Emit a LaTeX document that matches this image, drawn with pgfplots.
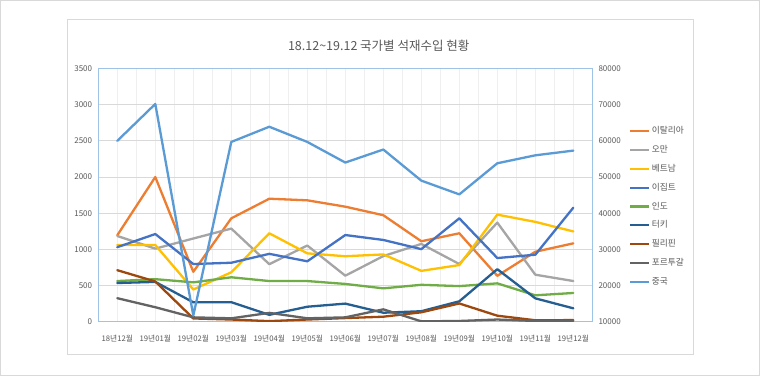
\documentclass[border=0pt]{standalone}
\usepackage{fontspec}
\setmainfont{Noto Sans CJK KR}
\usepackage{pgfplots}
\usepackage{pgfplotstable}
\pgfplotsset{compat=1.18}
\definecolor{cIta}{HTML}{ED7D31}
\definecolor{cOman}{HTML}{A5A5A5}
\definecolor{cViet}{HTML}{FFC000}
\definecolor{cEgypt}{HTML}{4472C4}
\definecolor{cIndia}{HTML}{70AD47}
\definecolor{cTurkey}{HTML}{255E91}
\definecolor{cPhil}{HTML}{9E480E}
\definecolor{cPort}{HTML}{636363}
\definecolor{cChina}{HTML}{5B9BD5}
\definecolor{cText}{HTML}{595959}
\definecolor{cFrame}{HTML}{D9D9D9}
\definecolor{cGridY}{HTML}{D9D9D9}
\definecolor{cGridX}{HTML}{EFEFEF}
\definecolor{cBorder}{HTML}{9DC3E6}

\pgfplotstableread{
k ita oman viet egypt india turkey phil port china
0 1195 1185 1060 1030 562 535 712 325 60000
1 2000 1010 1060 1212 588 550 556 200 70200
2 690 1150 445 797 544 268 45 60 11700
3 1429 1287 683 815 614 270 30 47 59700
4 1700 795 1222 938 562 95 8 122 63900
5 1678 1053 945 835 562 207 30 47 59700
6 1590 636 905 1198 522 250 50 60 54000
7 1472 907 930 1130 461 124 69 171 57600
8 1112 1075 703 1003 510 145 130 5 49000
9 1222 797 783 1429 492 282 252 10 45200
10 634 1370 1480 880 530 726 83 30 53800
11 967 650 1380 926 365 323 20 10 56000
12 1083 562 1248 1576 397 185 22 10 57300
}\datatable

\pgfplotsset{
  common/.style={
    at={(98.3pt,54.3pt)}, anchor=south west,
    scale only axis, width=494pt, height=253.2pt,
    xmin=-0.5, xmax=12.5,
    major tick length=0pt, minor tick length=0pt,
    scaled y ticks=false,
    /pgf/number format/1000 sep={},
    /pgf/number format/assume math mode=true,
    yticklabel style={font=\fontsize{8}{9}\selectfont, text=cText, inner sep=0pt},
  },
  ser/.style={line width=2.3pt, line join=round, line cap=round},
}

\begin{document}
\begin{tikzpicture}[x=1pt,y=1pt]
\useasboundingbox (0,0) rectangle (760,376);
\fill[white] (0,0) rectangle (760,376);
\draw[cFrame, line width=1pt] (0.5,0.5) rectangle (759.5,375.5);
\draw[cFrame, line width=0.8pt] (67,22) rectangle (693,357);
\node[font=\fontsize{12.5}{14}\selectfont, text=cText] at (378.7,330.7) {18.12\textasciitilde 19.12 국가별 석재수입 현황};

\begin{axis}[common,
  ymin=0, ymax=3500, ytick={0,500,...,3500},
  xtick={0,...,12},
  xticklabels={18년12월,19년01월,19년02월,19년03월,19년04월,19년05월,19년06월,19년07월,19년08월,19년09월,19년10월,19년11월,19년12월},
  xticklabel style={font=\fontsize{7.7}{9}\selectfont, text=cText, inner sep=0pt, anchor=north, yshift=-13.5pt},
  yticklabel style={anchor=east, xshift=-6pt},
  minor xtick={0,0.5,...,12},
  ymajorgrids, xminorgrids,
  major grid style={draw=cGridY, line width=0.8pt},
  minor grid style={draw=cGridX, line width=0.8pt},
  axis line style={draw=cBorder, line width=0.9pt},
  legend style={at={(1.074,0.769)}, anchor=north west, draw=none, fill=none,
    font=\fontsize{8.7}{10}\selectfont, text=cText, inner sep=0pt,
    row sep=10.6pt, column sep=1.5pt,
    nodes={inner sep=0pt, text height=6.7pt, text depth=1.5pt}},
  legend cell align=left,
  legend image code/.code={\draw[#1, line cap=butt] (0pt,0pt) -- (19pt,0pt);},
]
\addplot[ser, cIta] table[x=k,y=ita]{\datatable};
\addlegendentry{이탈리아}
\addplot[ser, cOman] table[x=k,y=oman]{\datatable};
\addlegendentry{오만}
\addplot[ser, cViet] table[x=k,y=viet]{\datatable};
\addlegendentry{베트남}
\addplot[ser, cEgypt] table[x=k,y=egypt]{\datatable};
\addlegendentry{이집트}
\addplot[ser, cIndia] table[x=k,y=india]{\datatable};
\addlegendentry{인도}
\addplot[ser, cTurkey] table[x=k,y=turkey]{\datatable};
\addlegendentry{터키}
\addplot[ser, cPhil] table[x=k,y=phil]{\datatable};
\addlegendentry{필리핀}
\addplot[ser, cPort] table[x=k,y=port]{\datatable};
\addlegendentry{포르투갈}
\addlegendimage{ser, cChina}
\addlegendentry{중국}
\end{axis}

\begin{axis}[common,
  ymin=10000, ymax=80000, ytick={10000,20000,...,80000},
  axis y line*=right, axis x line=none,
  xtick=\empty,
  yticklabel style={anchor=west, xshift=6pt},
  axis line style={draw=cBorder, line width=0.9pt},
]
\addplot[ser, cChina] table[x=k,y=china]{\datatable};
\end{axis}
\end{tikzpicture}
\end{document}
